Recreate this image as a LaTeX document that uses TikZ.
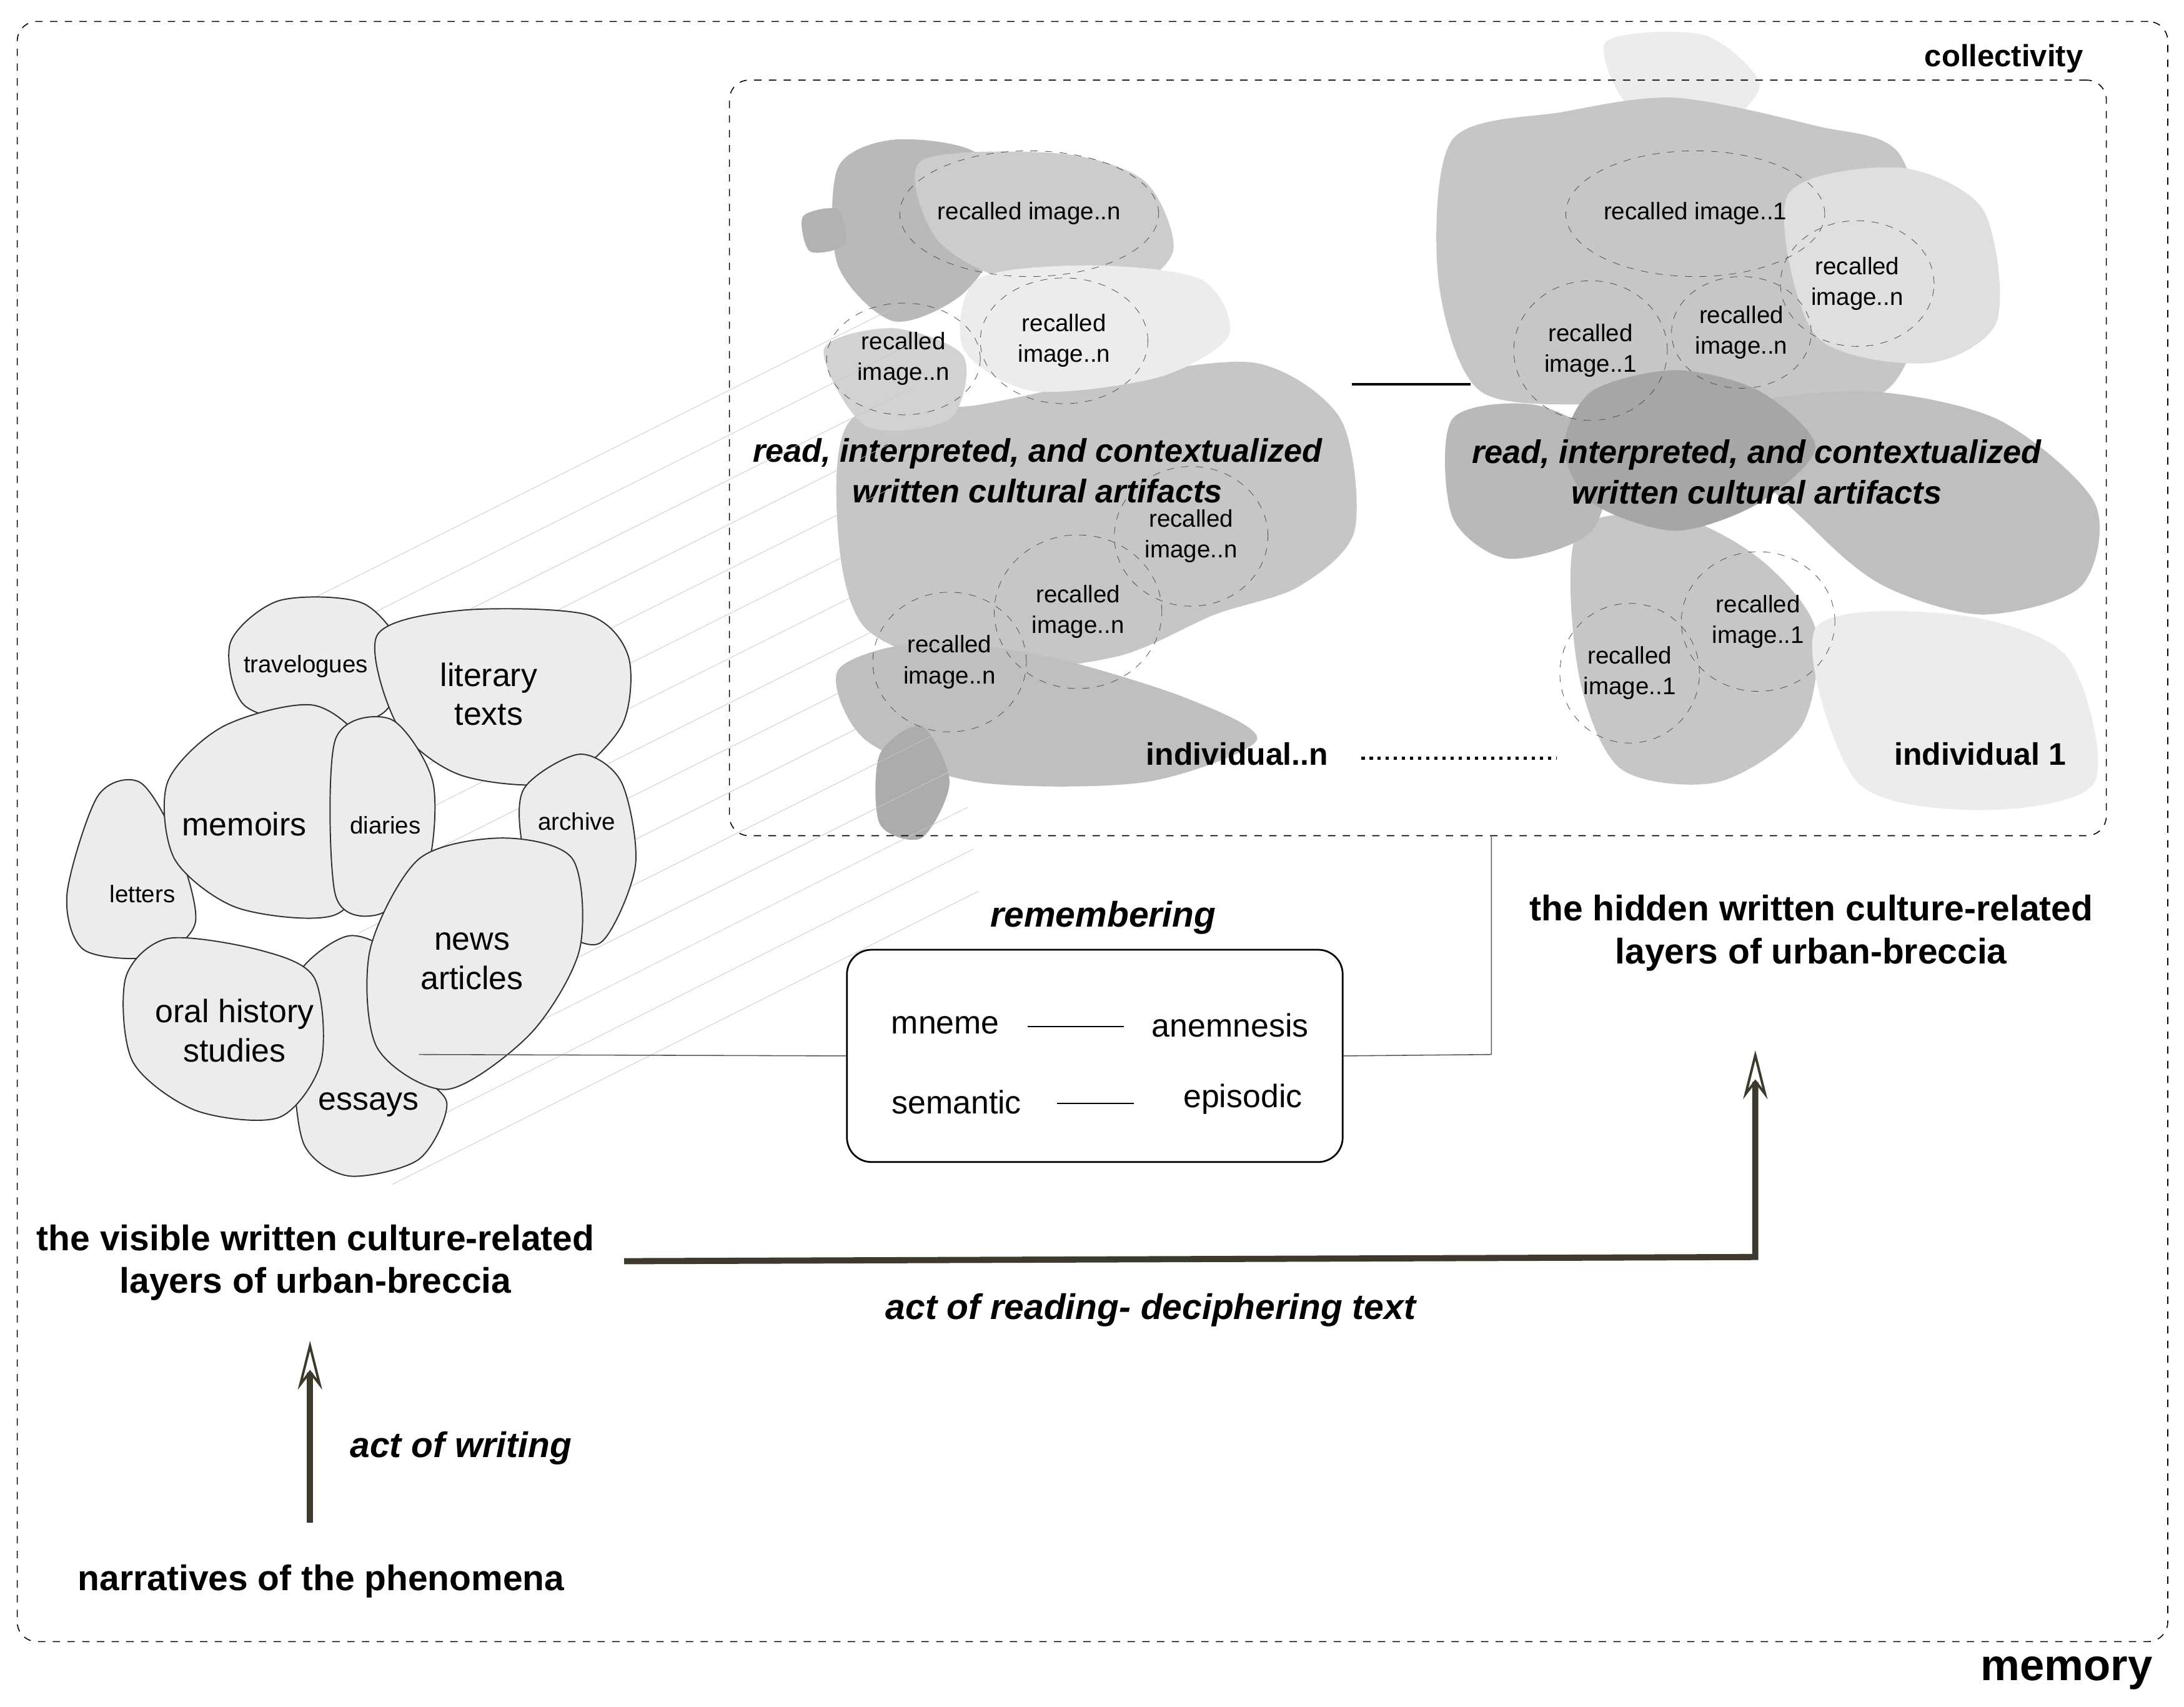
\documentclass[tikz,border=0pt]{standalone}
\usepackage{fontspec}
\setmainfont{Liberation Sans}
\usetikzlibrary{arrows.meta,shapes.geometric}
\begin{document}
\begin{tikzpicture}[x=0.2mm,y=-0.2mm,
 bt/.style={font=\fontsize{14.5}{17.5}\selectfont\bfseries,align=center},
 bit/.style={font=\fontsize{14.5}{17.5}\selectfont\bfseries\itshape,align=center},
 rec/.style={draw=gray!60!black,dashed,very thin,font=\fontsize{9.8}{12.5}\selectfont,align=center,inner sep=0pt},
 doc/.style={draw=black!80,fill=gray!15,line width=0.5pt},
 small/.style={font=\fontsize{9.8}{12}\selectfont},
 big/.style={font=\fontsize{13.2}{16}\selectfont,align=center},
 ray/.style={gray!45,very thin}]
\useasboundingbox (0,0) rectangle (1564,1222);
% outer frame
\node[draw,dashed,rounded corners=8pt,minimum width=1540*0.2mm,minimum height=1160*0.2mm,anchor=north west] (mem) at (12,15) {};
\node[font=\fontsize{18}{20}\selectfont\bfseries] (memlab) at (1480,1198) {memory};
% gray blobs left
\fill[gray!55] plot[smooth cycle] coordinates{(600,120)(640,100)(700,110)(720,160)(690,210)(640,230)(600,190)};
\fill[gray!40] plot[smooth cycle] coordinates{(660,115)(760,110)(820,130)(840,180)(800,210)(720,200)(670,170)};
\fill[gray!45] plot[smooth cycle] coordinates{(610,300)(700,290)(800,270)(900,260)(960,300)(970,380)(930,420)(870,440)(800,470)(700,480)(620,450)(600,380)};
\fill[gray!50] plot[smooth cycle] coordinates{(600,480)(660,460)(750,470)(850,500)(900,530)(820,560)(700,560)(620,530)};
\fill[gray!65] plot[smooth cycle] coordinates{(630,540)(660,520)(680,560)(660,600)(630,590)};
\fill[gray!15] plot[smooth cycle] coordinates{(700,200)(780,190)(860,200)(880,240)(830,270)(740,280)(690,250)};
\fill[gray!35] plot[smooth cycle] coordinates{(590,250)(640,235)(690,255)(680,300)(620,305)};
\fill[gray!60] plot[smooth cycle] coordinates{(575,155)(600,150)(605,175)(580,180)};
% gray blobs right
\fill[gray!15] plot[smooth cycle] coordinates{(1150,30)(1220,25)(1260,60)(1230,90)(1170,80)};
\fill[gray!45] plot[smooth cycle] coordinates{(1040,100)(1120,80)(1200,70)(1300,90)(1360,110)(1380,200)(1350,280)(1250,290)(1150,290)(1060,280)(1030,200)};
\fill[gray!25] plot[smooth cycle] coordinates{(1280,140)(1360,120)(1420,150)(1430,230)(1380,260)(1300,240)};
\fill[gray!50] plot[smooth cycle] coordinates{(1230,300)(1330,280)(1430,300)(1500,360)(1490,420)(1420,440)(1350,420)(1300,380)};
\fill[gray!45] plot[smooth cycle] coordinates{(1130,380)(1200,370)(1260,400)(1300,450)(1290,520)(1230,560)(1160,550)(1130,480)};
\fill[gray!15] plot[smooth cycle] coordinates{(1300,450)(1400,440)(1480,470)(1500,560)(1420,580)(1330,560)};
\fill[gray!55] plot[smooth cycle] coordinates{(1040,300)(1100,290)(1150,320)(1140,380)(1080,400)(1040,370)};
\fill[gray!70] plot[smooth cycle] coordinates{(1140,280)(1200,265)(1260,280)(1300,320)(1260,360)(1200,380)(1140,360)(1120,320)};
% inner frame
\node[draw,dashed,rounded corners=8pt,minimum width=986*0.2mm,minimum height=541*0.2mm,anchor=north west] (coll) at (522,57) {};
\node[font=\fontsize{12.5}{14}\selectfont\bfseries] (colllab) at (1435,42) {collectivity};
% recalled images
\node[rec,ellipse,minimum width=140*0.2mm,minimum height=90*0.2mm] (r1) at (737,153) {recalled image..n};
\node[rec,ellipse,minimum width=110*0.2mm,minimum height=80*0.2mm] (r2) at (647,257) {recalled\\image..n};
\node[rec,ellipse,minimum width=120*0.2mm,minimum height=90*0.2mm] (r3) at (762,244) {recalled\\image..n};
\node[rec,ellipse,minimum width=110*0.2mm,minimum height=100*0.2mm] (r4) at (853,384) {recalled\\image..n};
\node[rec,ellipse,minimum width=120*0.2mm,minimum height=110*0.2mm] (r5) at (772,438) {recalled\\image..n};
\node[rec,ellipse,minimum width=110*0.2mm,minimum height=100*0.2mm] (r6) at (680,474) {recalled\\image..n};
\node[rec,ellipse,minimum width=140*0.2mm,minimum height=90*0.2mm] (s1) at (1214,153) {recalled image..1};
\node[rec,ellipse,minimum width=110*0.2mm,minimum height=90*0.2mm] (s2) at (1330,203) {recalled\\image..n};
\node[rec,ellipse,minimum width=100*0.2mm,minimum height=80*0.2mm] (s3) at (1247,238) {recalled\\image..n};
\node[rec,ellipse,minimum width=110*0.2mm,minimum height=100*0.2mm] (s4) at (1139,251) {recalled\\image..1};
\node[rec,ellipse,minimum width=110*0.2mm,minimum height=100*0.2mm] (s5) at (1259,445) {recalled\\image..1};
\node[rec,ellipse,minimum width=100*0.2mm,minimum height=100*0.2mm] (s6) at (1167,482) {recalled\\image..1};
\node[bit,font=\fontsize{13.3}{16.5}\selectfont\bfseries\itshape] (artn) at (743,337) {read, interpreted, and contextualized\\written cultural artifacts};
\node[bit,font=\fontsize{13.3}{16.5}\selectfont\bfseries\itshape] (art1) at (1258,338) {read, interpreted, and contextualized\\written cultural artifacts};
\coordinate (la) at (968,275); \coordinate (lb) at (1053,275);
\draw[line width=1pt] (la) -- (lb);
\node[font=\fontsize{12.7}{14}\selectfont\bfseries] (indn) at (886,540) {individual..n};
\node[font=\fontsize{12.7}{14}\selectfont\bfseries] (ind1) at (1418,540) {individual 1};
\coordinate (d1) at (975,543); \coordinate (d2) at (1115,543);
\draw[line width=1.3pt,dotted] (d1) -- (d2);
% rays
\foreach \i in {0,...,14}{
  \draw[ray] (225+\i*4,428+\i*30) -- ++(420,-210);}
% left cluster
\draw[doc] plot[smooth cycle] coordinates{(165,460)(200,430)(260,432)(290,470)(275,510)(230,520)(175,505)};
\draw[doc] plot[smooth cycle] coordinates{(270,455)(330,437)(420,440)(450,470)(445,520)(400,560)(330,555)(285,520)};
\draw[doc] plot[smooth cycle] coordinates{(375,565)(415,540)(445,560)(455,620)(430,675)(395,660)(375,610)};
\draw[doc] plot[smooth cycle] coordinates{(48,640)(70,570)(100,560)(125,600)(140,660)(110,685)(60,680)};
\draw[doc] plot[smooth cycle] coordinates{(120,560)(160,520)(225,505)(265,540)(270,610)(240,655)(170,650)(125,615)};
\draw[doc] plot[smooth cycle] coordinates{(240,530)(280,515)(310,560)(305,625)(270,655)(240,640)};
\draw[doc] plot[smooth cycle] coordinates{(212,700)(250,670)(285,690)(295,760)(320,790)(300,830)(250,842)(218,820)(210,760)};
\draw[doc] plot[smooth cycle] coordinates{(90,700)(120,672)(185,680)(225,700)(230,760)(200,800)(140,795)(95,760)};
\draw[doc] plot[smooth cycle] coordinates{(265,680)(300,615)(360,600)(410,615)(415,680)(380,740)(320,780)(270,750)};
\node[small] (trav) at (219,477) {travelogues};
\node[big] (lit) at (350,497) {literary\\texts};
\node[big] (memo) at (175,590) {memoirs};
\node[small] (diar) at (276,591) {diaries};
\node[small] (lett) at (102,640) {letters};
\node[small] (arch) at (413,588) {archive};
\node[big] (news) at (338,688) {news\\articles};
\node[big] (oral) at (168,738) {oral history\\studies};
\node[big] (ess) at (264,791) {essays};
% remembering
\node[bit] (remlab) at (790,657) {remembering};
\node[draw,rounded corners=10pt,minimum width=355*0.2mm,minimum height=152*0.2mm,line width=0.7pt] (box) at (784,756) {};
\node[big] (mn) at (677,734) {mneme};
\node[big] (an) at (881,734) {anemnesis};
\node[big] (se) at (685,789) {semantic};
\node[big] (ep) at (890,787) {episodic};
\draw[thin] (736,735) -- (805,735);
\draw[thin] (757,790) -- (812,790);
\coordinate (cl) at (300,755); \coordinate (cr) at (1068,755); \coordinate (ct) at (1068,598);
\draw[gray!70!black,thin] (cl) -- (box.west);
\draw[gray!70!black,thin] (box.east) -- (cr) -- (ct);
% labels
\node[bt] (hid) at (1297,668) {the hidden written culture-related\\layers of urban-breccia};
\node[bt] (vis) at (226,904) {the visible written culture-related\\layers of urban-breccia};
\node[bit] (read) at (824,938) {act of reading- deciphering text};
\node[bit] (writ) at (330,1037) {act of writing};
\node[bt] (narr) at (230,1132) {narratives of the phenomena};
% arrows
\coordinate (a1) at (447,903); \coordinate (a2) at (1257,900); \coordinate (a3) at (1257,752);
\draw[line width=2.5pt,black!75!olive,-{Stealth[open,length=7mm,width=3.5mm,line width=1pt]}] (a1) -- (a2) -- (a3);
\coordinate (w1) at (222,1090); \coordinate (w2) at (222,960);
\draw[line width=2.5pt,black!75!olive,-{Stealth[open,length=7mm,width=3.5mm,line width=1pt]}] (w1) -- (w2);
\end{tikzpicture}
\end{document}
